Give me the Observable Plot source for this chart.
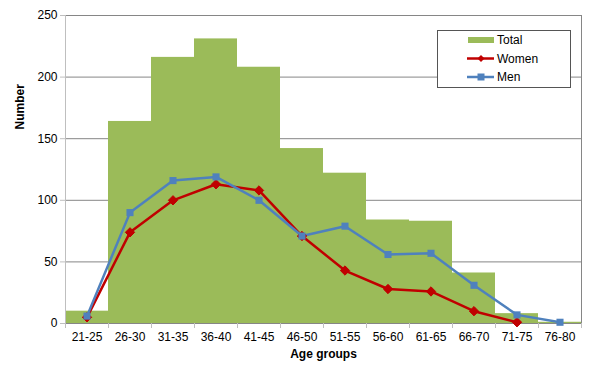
<!DOCTYPE html>
<html>
<head>
<meta charset="utf-8">
<script src="https://cdn.jsdelivr.net/npm/d3@7"></script>
<script src="https://cdn.jsdelivr.net/npm/@observablehq/plot@0.6"></script>
<style>
  html, body { margin: 0; padding: 0; background: #fff; }
  #chart { width: 596px; height: 379px; }
</style>
</head>
<body>
<div id="chart"></div>
<script>
const ageGroups = ["21-25","26-30","31-35","36-40","41-45","46-50","51-55","56-60","61-65","66-70","71-75","76-80"];
const total = [10, 164, 216, 231, 208, 142, 122, 84, 83, 41, 8, 1];
const women = [5, 74, 100, 113, 108, 71, 43, 28, 26, 10, 1, null];
const men   = [6, 90, 116, 119, 100, 71, 79, 56, 57, 31, 7, 1];
const yTicks = [0, 50, 100, 150, 200, 250];

const idx = ageGroups.map((_, i) => i);
const bars = idx.map(i => ({i, v: total[i]}));
const wData = idx.filter(i => women[i] != null).map(i => ({i, v: women[i]}));
const mData = idx.filter(i => men[i] != null).map(i => ({i, v: men[i]}));
const bounds = d3.range(-0.5, ageGroups.length, 1);

const green = "#9BBB59", red = "#C00000", blue = "#4F81BD", grid = "#868686";

const svg = Plot.plot({
  width: 596,
  height: 379,
  marginLeft: 65,
  marginRight: 15,
  marginTop: 15,
  marginBottom: 56,
  style: {fontFamily: "'Liberation Sans', Arial, sans-serif", fontSize: "12px", color: "#000", background: "#fff"},
  x: {type: "linear", domain: [-0.5, ageGroups.length - 0.5]},
  y: {domain: [0, 250]},
  marks: [
    Plot.ruleY(yTicks.slice(1), {stroke: grid, strokeWidth: 1}),
    Plot.rectY(bars, {x1: d => d.i - 0.5, x2: d => d.i + 0.5, y: "v", fill: green}),
    Plot.ruleY([0], {stroke: grid}),
    Plot.ruleX([-0.5], {stroke: "#BFBFBF"}),
    Plot.ruleX([ageGroups.length - 0.5], {stroke: grid}),
    Plot.line(wData, {x: "i", y: "v", stroke: red, strokeWidth: 2.5}),
    Plot.line(mData, {x: "i", y: "v", stroke: blue, strokeWidth: 2.5}),
    Plot.dot(wData, {x: "i", y: "v", symbol: "diamond2", r: 4.2, fill: red, stroke: red, strokeWidth: 1}),
    Plot.dot(mData, {x: "i", y: "v", symbol: "square", r: 4, fill: blue}),
    Plot.axisY({ticks: yTicks, tickSize: 5, tickPadding: 3, stroke: "#BFBFBF", label: null, tickFormat: d => d}),
    Plot.axisX({ticks: bounds, tickSize: 5, tickFormat: () => "", stroke: "#BFBFBF", label: null}),
    Plot.axisX({ticks: idx, tickSize: 0, tickPadding: 9, tickFormat: i => ageGroups[i], label: null}),
    Plot.text(["Number"], {frameAnchor: "left", dx: -45, dy: -40, rotate: -90, fontWeight: "bold", fontSize: 12}),
    Plot.text(["Age groups"], {frameAnchor: "bottom", dy: 34, fontWeight: "bold", fontSize: 12})
  ]
});

// Legend box inside the chart
const s = d3.select(svg);
const lg = s.append("g").attr("font-family", "'Liberation Sans', Arial, sans-serif")
  .attr("font-size", 12).attr("text-anchor", "start");
lg.append("rect").attr("x", 437.5).attr("y", 30.5).attr("width", 133).attr("height", 57)
  .attr("fill", "#fff").attr("stroke", "#555");
const items = [
  {name: "Total", y: 40, kind: "bar", c: green},
  {name: "Women", y: 58.5, kind: "diamond", c: red},
  {name: "Men", y: 77, kind: "square", c: blue}
];
for (const it of items) {
  if (it.kind === "bar") {
    lg.append("rect").attr("x", 468).attr("y", it.y - 3).attr("width", 26).attr("height", 6).attr("fill", it.c);
  } else {
    lg.append("line").attr("x1", 467).attr("x2", 494).attr("y1", it.y).attr("y2", it.y)
      .attr("stroke", it.c).attr("stroke-width", 2.5);
    if (it.kind === "diamond") {
      lg.append("path").attr("d", `M481,${it.y-3.5}L484.5,${it.y}L481,${it.y+3.5}L477.5,${it.y}Z`).attr("fill", it.c);
    } else {
      lg.append("rect").attr("x", 477.5).attr("y", it.y - 3.5).attr("width", 7).attr("height", 7).attr("fill", it.c);
    }
  }
  lg.append("text").attr("x", 497).attr("y", it.y).attr("dy", "0.35em").attr("text-anchor", "start").text(it.name);
}

document.getElementById("chart").appendChild(svg);
</script>
</body>
</html>
